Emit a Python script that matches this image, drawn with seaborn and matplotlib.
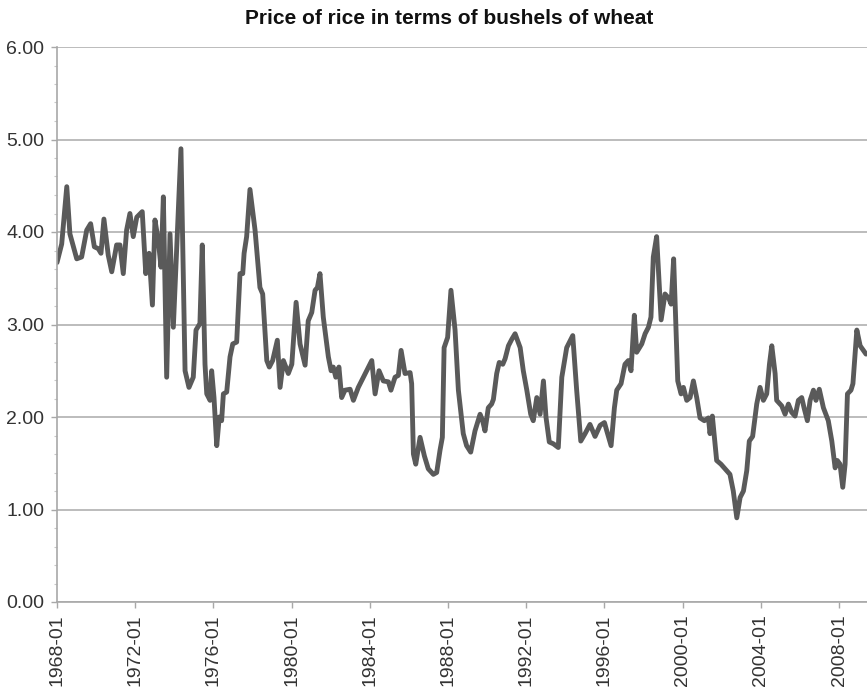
import matplotlib
matplotlib.use("Agg")
import matplotlib.pyplot as plt
from matplotlib.ticker import MultipleLocator
import pandas as pd
import seaborn as sns

# ── Data (decimal years) ─────────────────────────────────────────────────────
YEARS = [
    1968.00, 1968.24, 1968.50, 1968.66, 1969.01, 1969.26, 1969.52, 1969.72,
    1969.91, 1970.11, 1970.25, 1970.40, 1970.62, 1970.80, 1971.05, 1971.22,
    1971.39, 1971.56, 1971.73, 1971.90, 1972.08, 1972.36, 1972.54, 1972.71,
    1972.88, 1973.01, 1973.18, 1973.32, 1973.44, 1973.61, 1973.78, 1973.95,
    1974.34, 1974.55, 1974.75, 1974.97, 1975.11, 1975.31, 1975.43, 1975.57,
    1975.66, 1975.83, 1975.91, 1976.03, 1976.17, 1976.30, 1976.42, 1976.51,
    1976.68, 1976.85, 1976.99, 1977.19, 1977.36, 1977.50, 1977.57, 1977.70,
    1977.87, 1978.13, 1978.38, 1978.52, 1978.73, 1978.86, 1979.03, 1979.27,
    1979.41, 1979.58, 1979.83, 1980.01, 1980.23, 1980.43, 1980.69, 1980.85,
    1981.03, 1981.20, 1981.32, 1981.45, 1981.62, 1981.88, 1982.02, 1982.13,
    1982.26, 1982.42, 1982.56, 1982.73, 1982.99, 1983.16, 1983.41, 1983.67,
    1983.84, 1984.10, 1984.27, 1984.47, 1984.69, 1984.95, 1985.08, 1985.29,
    1985.46, 1985.60, 1985.80, 1986.06, 1986.14, 1986.23, 1986.35, 1986.57,
    1986.79, 1986.99, 1987.25, 1987.42, 1987.59, 1987.71, 1987.80, 1987.98,
    1988.15, 1988.36, 1988.53, 1988.78, 1988.95, 1989.16, 1989.38, 1989.64,
    1989.77, 1989.89, 1990.06, 1990.23, 1990.32, 1990.49, 1990.62, 1990.80,
    1990.92, 1991.09, 1991.26, 1991.43, 1991.69, 1991.85, 1992.03, 1992.23,
    1992.36, 1992.54, 1992.71, 1992.88, 1993.01, 1993.18, 1993.39, 1993.64,
    1993.82, 1994.07, 1994.38, 1994.58, 1994.79, 1995.01, 1995.26, 1995.52,
    1995.78, 1996.00, 1996.12, 1996.34, 1996.51, 1996.63, 1996.85, 1997.05,
    1997.22, 1997.36, 1997.53, 1997.65, 1997.91, 1998.08, 1998.25, 1998.38,
    1998.50, 1998.67, 1998.90, 1999.10, 1999.30, 1999.41, 1999.54, 1999.75,
    1999.92, 2000.04, 2000.21, 2000.38, 2000.55, 2000.72, 2000.89, 2001.11,
    2001.32, 2001.40, 2001.52, 2001.74, 2001.96, 2002.25, 2002.42, 2002.59,
    2002.77, 2002.94, 2003.11, 2003.28, 2003.41, 2003.58, 2003.79, 2003.96,
    2004.13, 2004.30, 2004.44, 2004.56, 2004.73, 2004.81, 2005.07, 2005.24,
    2005.41, 2005.58, 2005.75, 2005.92, 2006.09, 2006.21, 2006.38, 2006.52,
    2006.69, 2006.82, 2006.99, 2007.20, 2007.45, 2007.63, 2007.80, 2007.91,
    2008.05, 2008.19, 2008.31, 2008.43, 2008.61, 2008.71, 2008.91, 2009.08,
    2009.38,
]
PRICE = [
    3.67, 3.87, 4.49, 3.98, 3.71, 3.73, 4.02, 4.09,
    3.84, 3.82, 3.77, 4.14, 3.75, 3.57, 3.86, 3.86,
    3.55, 4.02, 4.20, 3.95, 4.16, 4.22, 3.55, 3.77,
    3.21, 4.13, 3.91, 3.62, 4.38, 2.43, 3.98, 2.97,
    4.90, 2.50, 2.32, 2.43, 2.94, 3.01, 3.86, 2.57,
    2.25, 2.18, 2.50, 2.21, 1.69, 2.00, 1.96, 2.25,
    2.27, 2.65, 2.79, 2.81, 3.55, 3.55, 3.77, 3.95,
    4.46, 4.02, 3.40, 3.33, 2.61, 2.54, 2.61, 2.83,
    2.32, 2.61, 2.47, 2.57, 3.24, 2.79, 2.56, 3.04,
    3.13, 3.37, 3.40, 3.55, 3.08, 2.65, 2.50, 2.54,
    2.43, 2.54, 2.21, 2.29, 2.30, 2.18, 2.32, 2.43,
    2.50, 2.61, 2.25, 2.50, 2.39, 2.38, 2.29, 2.43,
    2.45, 2.72, 2.47, 2.48, 2.36, 1.60, 1.49, 1.78,
    1.58, 1.44, 1.38, 1.40, 1.64, 1.78, 2.75, 2.86,
    3.37, 2.94, 2.29, 1.82, 1.69, 1.62, 1.85, 2.03,
    1.96, 1.85, 2.10, 2.14, 2.19, 2.47, 2.59, 2.57,
    2.63, 2.77, 2.84, 2.90, 2.75, 2.50, 2.29, 2.03,
    1.96, 2.21, 2.03, 2.39, 2.00, 1.73, 1.71, 1.67,
    2.43, 2.75, 2.88, 2.29, 1.74, 1.82, 1.92, 1.79,
    1.91, 1.94, 1.85, 1.69, 2.10, 2.29, 2.36, 2.57,
    2.61, 2.50, 3.10, 2.70, 2.79, 2.90, 2.97, 3.08,
    3.73, 3.95, 3.05, 3.33, 3.28, 3.22, 3.71, 2.39,
    2.25, 2.32, 2.18, 2.21, 2.39, 2.21, 1.99, 1.96,
    1.99, 1.82, 2.01, 1.53, 1.49, 1.42, 1.38, 1.20,
    0.91, 1.13, 1.20, 1.42, 1.74, 1.79, 2.14, 2.32,
    2.18, 2.25, 2.57, 2.77, 2.47, 2.18, 2.12, 2.03,
    2.14, 2.05, 2.01, 2.18, 2.21, 2.10, 1.96, 2.18,
    2.29, 2.18, 2.30, 2.10, 1.96, 1.74, 1.45, 1.53,
    1.49, 1.24, 1.49, 2.25, 2.29, 2.36, 2.94, 2.77,
    2.68,
]
XTICKS = list(range(1968, 2009, 4))
XTICK_LABELS = [f"{y}-01" for y in XTICKS]
YTICKS = [0, 1, 2, 3, 4, 5, 6]
YTICK_LABELS = [f"{v:.2f}" for v in YTICKS]
TITLE = "Price of rice in terms of bushels of wheat"

LINE = "#5a5a5a"
GRID = "#b0b0b0"
SPINE = "#a8a8a8"
TEXT = "#333333"

sns.set_style("white")
plt.rcParams["font.family"] = ["Liberation Sans", "DejaVu Sans"]

df = pd.DataFrame({"year": YEARS, "price": PRICE})

fig = plt.figure(figsize=(8.67, 6.88), dpi=100)
ax = fig.add_axes([57 / 867, 1 - 602 / 688, 1 - 57 / 867, (602 - 47) / 688])

sns.lineplot(data=df, x="year", y="price", ax=ax, color=LINE, lw=3.5,
             sort=False, solid_joinstyle="round")

ax.set_xlim(1968, 2009.43)
ax.set_ylim(0, 6)
ax.set_xticks(XTICKS)
ax.set_xticklabels(XTICK_LABELS, rotation=90, fontsize=14, color=TEXT)
ax.set_yticks(YTICKS)
ax.set_yticklabels(YTICK_LABELS, fontsize=14, color=TEXT)
ax.yaxis.set_minor_locator(MultipleLocator(0.2))
ax.set_xlabel("")
ax.set_ylabel("")

ax.grid(axis="y", color=GRID, lw=1.2)
ax.set_axisbelow(True)
for side in ("top", "right"):
    ax.spines[side].set_visible(False)
for side in ("left", "bottom"):
    ax.spines[side].set_color(SPINE)
    ax.spines[side].set_linewidth(1.2)

ax.tick_params(axis="x", which="major", direction="out", length=4,
               width=1, color=SPINE, pad=5, bottom=True)
ax.tick_params(axis="y", which="major", direction="out", length=4,
               width=1, color=SPINE, pad=5, left=True)
ax.tick_params(axis="y", which="minor", direction="out", length=2.5,
               width=0.8, color="#c8c8c8", left=True)

fig.text(449.5 / 867, 1 - 18 / 688, TITLE, ha="center", va="center",
         fontsize=15, fontweight="bold", color="#111111")

fig.savefig("out.png", dpi=100)
